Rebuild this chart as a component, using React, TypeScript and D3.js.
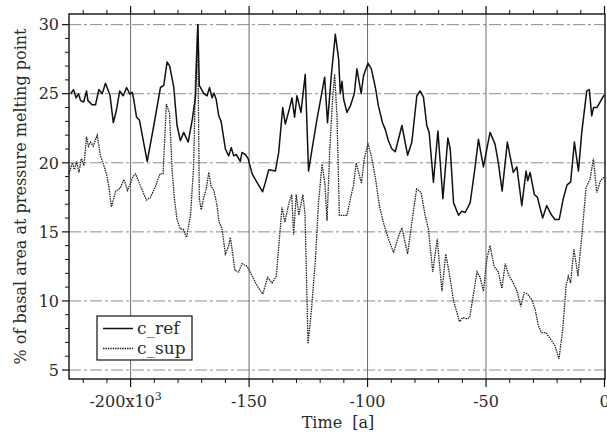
import React from "react";
import * as d3 from "d3";

// time in ka, % of basal area at pressure melting point
const refSeries: [number, number][] = [
  [-225.3, 25.0], [-224.1, 25.3], [-223.0, 24.7], [-222.0, 25.0], [-221.1, 24.5], [-219.8, 24.4],
  [-218.6, 25.2], [-218.0, 24.5], [-216.3, 24.2], [-214.8, 24.2], [-213.4, 25.3], [-212.0, 25.0],
  [-210.6, 25.75], [-209.6, 25.3], [-208.7, 24.9], [-207.3, 22.9], [-206.0, 23.8], [-204.6, 25.2],
  [-203.1, 24.85], [-201.7, 25.45], [-200.3, 24.97], [-199.3, 25.1], [-198.7, 24.6], [-197.5, 23.3],
  [-196.3, 23.1], [-193.0, 20.1], [-190.2, 22.7], [-187.4, 25.45], [-186.0, 25.6], [-184.6, 27.3],
  [-183.5, 27.0], [-181.8, 25.5], [-180.4, 22.7], [-179.0, 21.6], [-177.6, 22.2], [-175.7, 21.5],
  [-173.9, 23.2], [-172.6, 24.8], [-171.6, 30.0], [-171.0, 25.6], [-169.1, 25.0], [-167.7, 24.85],
  [-166.7, 25.45], [-165.6, 24.7], [-164.8, 25.05], [-163.9, 24.6], [-162.8, 23.4], [-161.8, 23.0],
  [-160.0, 21.0], [-158.6, 20.5], [-157.5, 21.1], [-156.5, 20.5], [-155.4, 20.6], [-153.7, 20.1],
  [-153.0, 20.75], [-151.6, 20.6], [-150.4, 20.3], [-148.7, 19.2], [-147.4, 18.8], [-144.3, 17.9],
  [-143.1, 18.6], [-141.7, 19.5], [-138.9, 19.4], [-137.5, 20.75], [-135.8, 24.0], [-134.7, 22.8],
  [-133.0, 23.9], [-131.9, 24.7], [-130.8, 23.3], [-129.8, 24.85], [-128.1, 23.65], [-126.3, 26.4],
  [-124.9, 19.4], [-123.4, 21.0], [-121.3, 23.2], [-119.9, 24.5], [-118.1, 26.2], [-116.9, 22.9],
  [-115.3, 26.3], [-113.6, 29.3], [-112.2, 27.5], [-111.5, 25.0], [-110.8, 25.9], [-110.1, 24.6],
  [-108.7, 23.65], [-107.3, 24.1], [-105.6, 25.0], [-104.5, 26.8], [-103.5, 25.8], [-102.7, 25.0],
  [-101.7, 26.3], [-99.8, 27.2], [-98.4, 26.8], [-96.7, 25.45], [-95.4, 24.1], [-93.7, 22.9],
  [-92.5, 22.4], [-91.2, 21.6], [-89.7, 21.0], [-88.3, 20.8], [-85.5, 22.7], [-83.1, 20.55],
  [-81.3, 21.5], [-79.2, 24.85], [-77.8, 25.2], [-76.4, 24.75], [-75.0, 22.7], [-74.0, 22.2],
  [-72.2, 18.6], [-70.3, 22.3], [-68.2, 17.4], [-66.1, 21.8], [-65.1, 21.0], [-63.7, 17.1],
  [-61.6, 16.2], [-60.2, 16.5], [-58.8, 16.4], [-56.7, 17.1], [-54.6, 19.7], [-53.2, 21.7],
  [-51.1, 19.7], [-48.3, 22.2], [-46.2, 21.35], [-44.8, 20.0], [-43.2, 17.95], [-41.0, 21.5],
  [-38.5, 19.3], [-37.0, 19.7], [-34.9, 16.9], [-33.1, 19.4], [-32.4, 18.7], [-31.4, 19.3],
  [-29.6, 17.7], [-28.3, 17.5], [-26.1, 16.0], [-24.4, 16.9], [-22.3, 16.2], [-20.9, 15.9],
  [-19.1, 15.9], [-17.4, 17.4], [-15.8, 18.4], [-14.3, 18.6], [-12.7, 21.5], [-11.0, 19.4],
  [-9.6, 22.2], [-7.5, 25.2], [-6.4, 25.3], [-5.4, 23.4], [-4.6, 24.0], [-3.2, 24.0],
  [-0.5, 24.8], [0, 24.9],
];

const supSeries: [number, number][] = [
  [-226.0, 19.2], [-224.6, 20.0], [-223.7, 19.5], [-222.8, 20.1], [-221.8, 19.3], [-220.8, 20.3],
  [-219.7, 19.8], [-218.6, 21.9], [-217.8, 21.2], [-216.9, 21.5], [-215.8, 21.2], [-214.1, 22.0],
  [-212.7, 20.5], [-211.3, 19.8], [-210.2, 19.2], [-209.2, 18.3], [-208.1, 16.8], [-206.4, 17.9],
  [-204.3, 18.2], [-202.8, 18.8], [-201.3, 18.0], [-199.0, 19.0], [-197.9, 19.2], [-195.8, 18.3],
  [-193.3, 17.3], [-191.6, 17.5], [-189.5, 18.3], [-187.6, 19.2], [-186.3, 19.2], [-184.9, 24.25],
  [-183.6, 23.6], [-182.5, 19.5], [-181.5, 17.4], [-180.4, 15.9], [-179.0, 15.2], [-177.8, 15.2],
  [-176.4, 14.6], [-174.7, 16.2], [-173.4, 19.8], [-172.6, 26.3], [-171.7, 30.0], [-171.0, 17.4],
  [-170.2, 16.6], [-169.1, 17.5], [-168.1, 18.1], [-167.0, 19.3], [-166.0, 18.3], [-164.9, 18.0],
  [-163.5, 16.9], [-162.8, 15.8], [-161.4, 15.2], [-160.0, 13.4], [-158.6, 14.0], [-157.9, 14.6],
  [-156.9, 13.4], [-156.0, 12.2], [-154.4, 12.1], [-153.0, 12.7], [-150.8, 12.5], [-148.7, 11.8],
  [-146.6, 11.1], [-144.2, 10.5], [-142.2, 11.7], [-140.3, 11.3], [-138.5, 11.8], [-136.1, 16.8],
  [-134.9, 15.7], [-133.3, 17.0], [-132.0, 17.7], [-131.2, 14.8], [-130.1, 17.7], [-129.0, 16.2],
  [-127.3, 17.7], [-126.4, 16.3], [-125.1, 6.9], [-123.7, 9.3], [-122.0, 13.0], [-120.7, 17.1],
  [-119.2, 19.9], [-118.0, 18.5], [-117.1, 15.8], [-115.9, 21.1], [-114.8, 24.5], [-113.9, 26.4],
  [-112.9, 23.4], [-111.9, 16.2], [-110.1, 16.2], [-108.7, 16.2], [-107.5, 17.2], [-105.9, 18.4],
  [-104.8, 20.0], [-103.9, 19.4], [-102.6, 18.5], [-101.4, 20.3], [-99.8, 21.35], [-98.4, 20.5],
  [-96.7, 18.9], [-94.9, 16.8], [-93.2, 15.6], [-91.2, 14.5], [-89.0, 13.5], [-86.9, 14.7],
  [-85.5, 15.3], [-83.1, 13.4], [-81.3, 15.7], [-79.3, 18.1], [-77.4, 17.85], [-75.7, 16.2],
  [-74.3, 15.2], [-72.5, 12.1], [-70.6, 14.5], [-68.6, 10.7], [-67.0, 13.4], [-65.6, 12.1],
  [-63.7, 10.0], [-61.2, 8.5], [-59.8, 8.8], [-58.1, 8.7], [-56.9, 8.8], [-55.3, 10.5],
  [-53.8, 12.1], [-52.5, 11.7], [-51.1, 10.7], [-49.7, 13.0], [-48.3, 14.0], [-46.6, 12.5],
  [-44.8, 12.1], [-43.3, 10.9], [-41.9, 12.7], [-40.5, 11.9], [-38.5, 11.3], [-36.9, 10.7],
  [-35.3, 9.6], [-33.9, 10.6], [-32.5, 10.5], [-30.7, 10.1], [-29.3, 9.4], [-27.9, 8.2],
  [-26.5, 7.7], [-24.7, 7.7], [-23.0, 7.3], [-20.9, 6.75], [-19.2, 5.8], [-17.6, 8.0],
  [-16.2, 11.1], [-15.3, 11.8], [-14.3, 11.3], [-12.9, 13.75], [-11.2, 11.8], [-9.5, 14.8],
  [-7.8, 18.2], [-6.1, 18.8], [-4.7, 20.3], [-3.3, 17.85], [-1.7, 18.7], [0, 19.0],
];

const seriesNames = ["c_ref", "c_sup"];
const xMajorTicks = [-200, -150, -100, -50, 0];
const xTickLabels = ["-200x10", "-150", "-100", "-50", "0"];
const yMajorTicks = [5, 10, 15, 20, 25, 30];
const xTitle = "Time  [a]";
const yTitle = "% of basal area at pressure melting point";

const W = 607, H = 433;
const left = 69, right = 605, top = 14, bottom = 379;
const font = "'DejaVu Serif', serif";
const ink = "#2a2a2a";

export default function App() {
  const x = d3.scaleLinear().domain([-226, 0]).range([left, 604.5]);
  const y = d3.scaleLinear().domain([4.35, 30.77]).range([bottom, top]);
  const line = d3.line<[number, number]>().x(d => x(d[0])).y(d => y(d[1]));

  const xMinor = d3.range(-220, 1, 10).filter(t => !xMajorTicks.includes(t));
  const yMinor = d3.range(5, 31, 1).filter(v => !yMajorTicks.includes(v));

  return (
    <svg width={W} height={H} style={{ position: "absolute", left: 0, top: 0, background: "#fff" }}>
      {/* grid */}
      {yMajorTicks.map(v => (
        <line key={"gy" + v} x1={left} x2={right} y1={y(v)} y2={y(v)}
          stroke="#808080" strokeWidth={0.9} strokeDasharray="12,3,3,3" />
      ))}
      {xMajorTicks.filter(t => t > -226 && t < 0).map(t => (
        <line key={"gx" + t} x1={x(t)} x2={x(t)} y1={top} y2={bottom}
          stroke="#5a5a5a" strokeWidth={0.9} />
      ))}

      {/* series */}
      <path d={line(supSeries) || ""} fill="none" stroke="#222" strokeWidth={1.3} strokeDasharray="1.5,0.9" />
      <path d={line(refSeries) || ""} fill="none" stroke="#111" strokeWidth={1.5} strokeLinejoin="round" />

      {/* frame */}
      <rect x={left} y={top} width={right - left} height={bottom - top} fill="none" stroke="#111" strokeWidth={1.4} />

      {/* x ticks top and bottom */}
      {xMajorTicks.map(t => (
        <g key={"xt" + t}>
          <line x1={x(t)} x2={x(t)} y1={bottom} y2={bottom + 8} stroke="#111" strokeWidth={1.2} />
          <line x1={x(t)} x2={x(t)} y1={top} y2={top - 8} stroke="#111" strokeWidth={1.2} />
        </g>
      ))}
      {xMinor.map(t => (
        <g key={"xm" + t}>
          <line x1={x(t)} x2={x(t)} y1={bottom} y2={bottom + 4} stroke="#111" strokeWidth={1} />
          <line x1={x(t)} x2={x(t)} y1={top} y2={top - 4} stroke="#111" strokeWidth={1} />
        </g>
      ))}

      {/* y ticks */}
      {yMajorTicks.map(v => (
        <line key={"yt" + v} x1={left - 7} x2={left} y1={y(v)} y2={y(v)} stroke="#111" strokeWidth={1.2} />
      ))}
      {yMinor.map(v => (
        <line key={"ym" + v} x1={left - 4} x2={left} y1={y(v)} y2={y(v)} stroke="#111" strokeWidth={1} />
      ))}

      {/* tick labels */}
      {yMajorTicks.map(v => (
        <text key={"yl" + v} x={left - 10} y={y(v)} dy="0.36em" textAnchor="end"
          fontFamily={font} fontSize={16} fill={ink}>{v}</text>
      ))}
      {xMajorTicks.map((t, i) => (
        <text key={"xl" + t} x={x(t) - (i === 0 ? 5 : 0)} y={407} textAnchor="middle"
          fontFamily={font} fontSize={16} fill={ink}>
          {xTickLabels[i]}
          {i === 0 && <tspan dy={-7} fontSize={11}>3</tspan>}
        </text>
      ))}

      {/* titles */}
      <text x={(left + right) / 2 + 1} y={428} textAnchor="middle" fontFamily={font} fontSize={16} fill={ink}
        style={{ whiteSpace: "pre" }}>
        {xTitle}
      </text>
      <text transform={`translate(26,${(top + bottom) / 2 + 0}) rotate(-90)`} textAnchor="middle"
        fontFamily={font} fontSize={16} fill={ink}>
        {yTitle}
      </text>

      {/* legend */}
      <g>
        <rect x={97} y={316} width={95} height={44} fill="#fff" stroke="#111" strokeWidth={1.2} />
        <line x1={103} x2={133} y1={328.5} y2={328.5} stroke="#111" strokeWidth={1.5} />
        <line x1={103} x2={133} y1={348.5} y2={348.5} stroke="#222" strokeWidth={1.3} strokeDasharray="1.5,0.9" />
        <text x={137} y={334} fontFamily={font} fontSize={17} fill={ink}>{seriesNames[0]}</text>
        <text x={137} y={354} fontFamily={font} fontSize={17} fill={ink}>{seriesNames[1]}</text>
      </g>
    </svg>
  );
}
